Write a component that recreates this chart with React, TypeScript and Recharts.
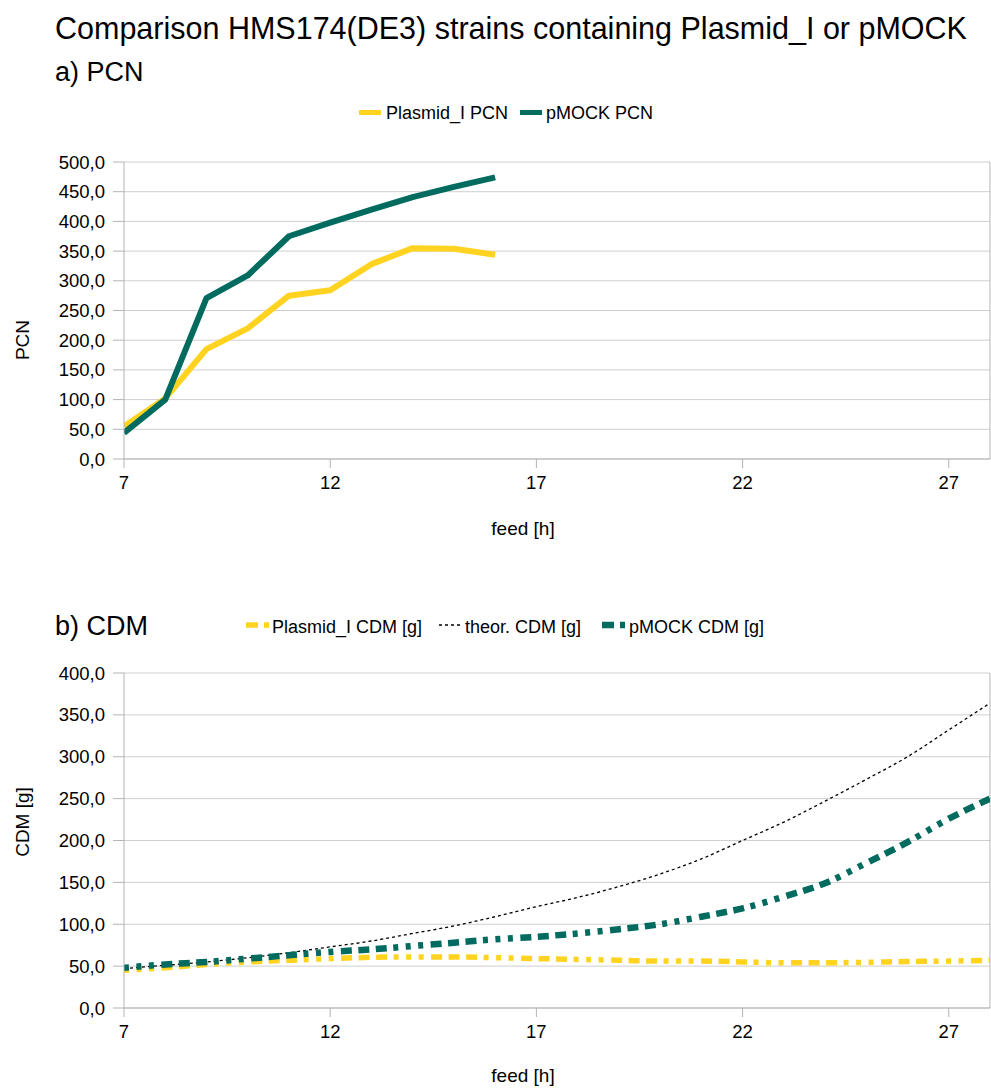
import React from 'react';
import { LineChart, Line, XAxis, YAxis, CartesianGrid, ReferenceLine } from 'recharts';

const FONT = "'Liberation Sans', Arial, sans-serif";

const titleText = 'Comparison HMS174(DE3) strains containing Plasmid_I or pMOCK';
const subtitleA = 'a) PCN';
const subtitleB = 'b) CDM';
const xAxisTitle = 'feed [h]';
const yTitleA = 'PCN';
const yTitleB = 'CDM [g]';

const hoursA = [7, 8, 9, 10, 11, 12, 13, 14, 15, 16];
const plasmidPCN = [55, 102, 185, 220, 275, 284, 328, 355, 354, 344];
const mockPCN = [44, 100, 271, 309, 375, 398, 420, 441, 458, 474];

const hoursB = [7, 8, 9, 10, 11, 12, 13, 14, 15, 16, 17, 18, 19, 20, 21, 22, 23, 24, 25, 26, 27, 28];
const plasmidCDM = [45, 48, 52, 55, 57, 59, 60.5, 61, 61, 60, 59, 58, 57, 56, 56, 55, 54, 54, 54.5, 55.5, 56, 57];
const theorCDM = [47, 51, 55, 60, 66, 73, 80, 89, 98, 109, 121, 132, 145, 160, 178, 200, 222, 247, 273, 300, 332, 364];
const mockCDM = [48, 52, 55, 59, 63, 67, 70, 74, 78, 82, 85, 89, 94, 100, 109, 119, 133, 149, 173, 198, 226, 250];

const xTicks = [7, 12, 17, 22, 27];
const yTicksA = [0, 50, 100, 150, 200, 250, 300, 350, 400, 450, 500];
const yTicksB = [0, 50, 100, 150, 200, 250, 300, 350, 400];

const legendA = ['Plasmid_I PCN', 'pMOCK PCN'];
const legendB = ['Plasmid_I CDM [g]', 'theor. CDM [g]', 'pMOCK CDM [g]'];

const YELLOW = '#ffd320';
const TEAL = '#006b5e';
const GRID = '#cfcfcf';
const AXIS = '#b3b3b3';
const DASHDOT = '5 7.5 5 7.5 5 7.5 11 6.5 11 6.5 11 6.5';

const dataA = hoursA.map((h, i) => ({ h, plasmid: plasmidPCN[i], mock: mockPCN[i] }));
const dataB = hoursB.map((h, i) => ({ h, plasmid: plasmidCDM[i], theor: theorCDM[i], mock: mockCDM[i] }));

const fmt = (v: number) => v.toFixed(1).replace('.', ',');

const tickStyle = { fontSize: 18.5, fill: '#000', fontFamily: FONT };

function yLabel(text: string, cy: number) {
  return (props: any) => (
    <text
      x={22}
      y={cy}
      transform={`rotate(-90, 22, ${cy})`}
      textAnchor="middle"
      dominantBaseline="central"
      fontSize={19}
      fontFamily={FONT}
      fill="#000"
    >
      {text}
    </text>
  );
}

function xLabel(cy: number) {
  return (props: any) => (
    <text x={523} y={cy} textAnchor="middle" dominantBaseline="central" fontSize={19} fontFamily={FONT} fill="#000">
      {xAxisTitle}
    </text>
  );
}

const abs = (left: number, top: number, extra: any = {}) => ({
  position: 'absolute' as const,
  left,
  top,
  whiteSpace: 'nowrap' as const,
  lineHeight: 1,
  ...extra,
});

export default function App() {
  return (
    <div style={{ position: 'absolute', left: 0, top: 0, width: 991, height: 1090, background: '#fff', fontFamily: FONT, color: '#000' }}>
      <div style={abs(55, 13, { fontSize: 30.5 })}>{titleText}</div>
      <div style={abs(55, 59, { fontSize: 27 })}>{subtitleA}</div>
      <div style={abs(55, 613, { fontSize: 27 })}>{subtitleB}</div>

      {/* legend A */}
      <div style={abs(359, 110, { width: 22, height: 5, background: YELLOW })} />
      <div style={abs(386, 104, { fontSize: 18 })}>{legendA[0]}</div>
      <div style={abs(520, 110, { width: 22, height: 5, background: TEAL })} />
      <div style={abs(546, 104, { fontSize: 18 })}>{legendA[1]}</div>

      {/* legend B */}
      <svg style={abs(246, 620)} width={24} height={10}>
        <line x1={0} y1={5} x2={24} y2={5} stroke={YELLOW} strokeWidth={5.5} strokeDasharray="12 6 5 7" />
      </svg>
      <div style={abs(272, 618, { fontSize: 18 })}>{legendB[0]}</div>
      <svg style={abs(439, 620)} width={22} height={10}>
        <line x1={0} y1={5} x2={22} y2={5} stroke="#000" strokeWidth={1.3} strokeDasharray="3 3" />
      </svg>
      <div style={abs(465, 618, { fontSize: 18 })}>{legendB[1]}</div>
      <svg style={abs(602, 620)} width={24} height={10}>
        <line x1={0} y1={5} x2={24} y2={5} stroke={TEAL} strokeWidth={6.5} strokeDasharray="12 6 5 7" />
      </svg>
      <div style={abs(629, 618, { fontSize: 18 })}>{legendB[2]}</div>

      <div style={abs(0, 0)}>
        <LineChart width={991} height={545} data={dataA} margin={{ top: 162, right: 1, bottom: 0, left: 0 }}>
          <CartesianGrid horizontal vertical={false} stroke={GRID} />
          <XAxis
            dataKey="h"
            type="number"
            domain={[7, 28]}
            ticks={xTicks}
            allowDataOverflow
            height={86}
            tickSize={9}
            tickMargin={8}
            tick={tickStyle}
            stroke={AXIS}
            tickLine={{ stroke: AXIS }}
            label={{ content: xLabel(528) }}
          />
          <YAxis
            type="number"
            domain={[0, 500]}
            ticks={yTicksA}
            width={124}
            tickSize={11}
            tickMargin={8}
            tick={tickStyle}
            tickFormatter={fmt}
            stroke={AXIS}
            tickLine={{ stroke: AXIS }}
            label={{ content: yLabel(yTitleA, 340) }}
          />
          <ReferenceLine x={28} stroke={AXIS} />
          <Line dataKey="plasmid" stroke={YELLOW} strokeWidth={6} dot={false} isAnimationActive={false} strokeLinejoin="round" />
          <Line dataKey="mock" stroke={TEAL} strokeWidth={6} dot={false} isAnimationActive={false} strokeLinejoin="round" />
        </LineChart>
      </div>

      <div style={abs(0, 560)}>
        <LineChart width={991} height={530} data={dataB} margin={{ top: 113, right: 1, bottom: 0, left: 0 }}>
          <CartesianGrid horizontal vertical={false} stroke={GRID} />
          <XAxis
            dataKey="h"
            type="number"
            domain={[7, 28]}
            ticks={xTicks}
            allowDataOverflow
            height={82}
            tickSize={9}
            tickMargin={8}
            tick={tickStyle}
            stroke={AXIS}
            tickLine={{ stroke: AXIS }}
            label={{ content: xLabel(515) }}
          />
          <YAxis
            type="number"
            domain={[0, 400]}
            ticks={yTicksB}
            width={124}
            tickSize={11}
            tickMargin={8}
            tick={tickStyle}
            tickFormatter={fmt}
            stroke={AXIS}
            tickLine={{ stroke: AXIS }}
            label={{ content: yLabel(yTitleB, 262) }}
          />
          <ReferenceLine x={28} stroke={AXIS} />
          <Line dataKey="plasmid" type="monotone" stroke={YELLOW} strokeWidth={5.5} strokeDasharray={DASHDOT} dot={false} isAnimationActive={false} />
          <Line dataKey="theor" type="monotone" stroke="#000" strokeWidth={1.3} strokeDasharray="3 3" dot={false} isAnimationActive={false} />
          <Line dataKey="mock" type="monotone" stroke={TEAL} strokeWidth={6.5} strokeDasharray={DASHDOT} dot={false} isAnimationActive={false} />
        </LineChart>
      </div>
    </div>
  );
}
